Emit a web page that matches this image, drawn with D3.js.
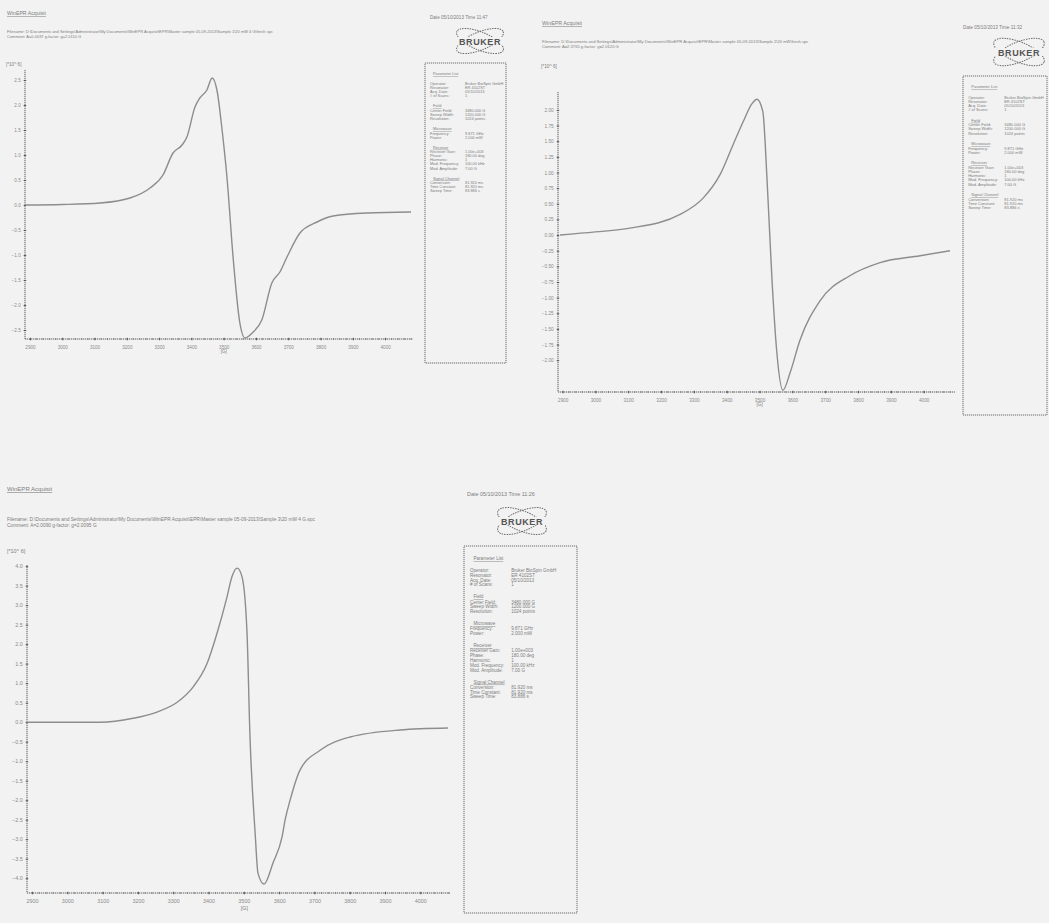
<!DOCTYPE html>
<html>
<head>
<meta charset="utf-8">
<script src="https://cdn.jsdelivr.net/npm/d3@7"></script>
<style>
  body { margin: 0; background: #f2f2f2; }
  text { font-family: "Liberation Sans", Arial, sans-serif; fill: #7d7d7d; }
</style>
</head>
<body>
<svg id="chart" width="1049" height="923"></svg>
<script>
'use strict';

// Field axis ticks shared by all three spectra [G].
const fieldTicks = [2900, 3000, 3100, 3200, 3300, 3400, 3500, 3600, 3700, 3800, 3900, 4000];
const fieldDomain = [2880, 4080];

// Spectrum 1 (top left).
const field1  = [2885, 3000, 3117, 3210, 3272, 3312, 3343, 3371, 3386, 3411, 3426, 3448, 3464, 3479, 3495, 3510, 3529, 3550, 3566, 3590, 3618, 3649, 3674, 3696, 3736, 3789, 3839, 3944, 4080];
const signal1 = [0.00, 0.01, 0.04, 0.14, 0.34, 0.60, 1.04, 1.20, 1.36, 1.96, 2.14, 2.30, 2.54, 2.30, 1.50, 0.56, -1.04, -2.36, -2.66, -2.55, -2.30, -1.56, -1.34, -1.04, -0.56, -0.34, -0.22, -0.16, -0.14];
const yTicks1 = [-2.5, -2.0, -1.5, -1.0, -0.5, 0.0, 0.5, 1.0, 1.5, 2.0, 2.5];

// Spectrum 2 (top right).
const field2  = [2892, 3000, 3105, 3258, 3328, 3380, 3419, 3450, 3477, 3492, 3510, 3523, 3538, 3553, 3571, 3593, 3623, 3684, 3775, 3867, 3989, 4080];
const signal2 = [0.00, 0.05, 0.11, 0.33, 0.59, 0.97, 1.44, 1.81, 2.10, 2.17, 1.97, 0.86, -0.73, -1.90, -2.48, -2.20, -1.68, -1.05, -0.65, -0.44, -0.33, -0.25];
const yTicks2 = [-2.00, -1.75, -1.50, -1.25, -1.00, -0.75, -0.50, -0.25, 0.00, 0.25, 0.50, 0.75, 1.00, 1.25, 1.50, 1.75, 2.00];

// Spectrum 3 (bottom left).
const field3  = [2886, 3092, 3186, 3254, 3311, 3356, 3396, 3424, 3452, 3466, 3481, 3495, 3509, 3517, 3532, 3540, 3557, 3583, 3608, 3617, 3631, 3659, 3716, 3801, 3942, 4078];
const signal3 = [0.00, 0.00, 0.10, 0.26, 0.51, 0.90, 1.51, 2.28, 3.20, 3.72, 3.95, 3.72, 2.28, -0.28, -2.85, -3.87, -4.15, -3.60, -2.95, -2.50, -2.00, -1.23, -0.72, -0.38, -0.20, -0.15];
const yTicks3 = [-4.0, -3.5, -3.0, -2.5, -2.0, -1.5, -1.0, -0.5, 0.0, 0.5, 1.0, 1.5, 2.0, 2.5, 3.0, 3.5, 4.0];

// Header texts.
const titles   = ['WinEPR Acquisit', 'WinEPR Acquisit', 'WinEPR Acquisit'];
const dates    = ['Date 05/10/2013  Time 11:47', 'Date 05/10/2013  Time 11:32', 'Date 05/10/2013  Time 11:26'];
const files    = [
  'Filename: D:\\Documents and Settings\\Administrator\\My Documents\\WinEPR Acquisit\\EPR\\Master sample 05-09-2013\\Sample 1\\20 mW 4 G\\fresh spc',
  'Filename: D:\\Documents and Settings\\Administrator\\My Documents\\WinEPR Acquisit\\EPR\\Master sample 05-09-2013\\Sample 2\\20 mW\\fresh.spc',
  'Filename: D:\\Documents and Settings\\Administrator\\My Documents\\WinEPR Acquisit\\EPR\\Master sample 05-09-2013\\Sample 3\\20 mW 4 G.spc'
];
const comments = ['Comment:  A=0.0037 g-factor: g=2.0110 G', 'Comment:  A=2.3765 g-factor: g=2.0120 G', 'Comment:  A=2.0090 g-factor: g=2.0095 G'];

// Parameter list (same acquisition settings).
const paramSections = [
  { head: null, rows: [['Operator:', 'Bruker BioSpin GmbH'], ['Resonator:', 'ER 4102ST'], ['Acq. Date:', '05/10/2013'], ['# of Scans:', '1']] },
  { head: 'Field', rows: [['Center Field:', '3480.000 G'], ['Sweep Width:', '1200.000 G'], ['Resolution:', '1024 points']] },
  { head: 'Microwave', rows: [['Frequency:', '9.871 GHz'], ['Power:', '2.000 mW']] },
  { head: 'Receiver', rows: [['Receiver Gain:', '1.00e+003'], ['Phase:', '180.00 deg'], ['Harmonic:', '1'], ['Mod. Frequency:', '100.00 kHz'], ['Mod. Amplitude:', '7.00 G']] },
  { head: 'Signal Channel', rows: [['Conversion:', '81.920 ms'], ['Time Constant:', '81.920 ms'], ['Sweep Time:', '83.886 s']] }
];

// Layout of each printed page on the scan.
const panels = [
  { field: field1, signal: signal1, yTicks: yTicks1, fmt: '.1f', yDomain: [-2.68, 2.70],
    left: 23.5, right: 411, top: 70, bottom: 339, axisEnd: 413,
    head: { x: 7, title: 15, file: 33, comment: 38, dateX: 430, dateY: 19 },
    logo: { cx: 480, cy: 41, rx: 25, ry: 9 }, ylab: { x: 6, y: 66 },
    box: { x: 425, y: 63, w: 81, h: 300 }, s: 1 },
  { field: field2, signal: signal2, yTicks: yTicks2, fmt: '.2f', yDomain: [-2.508, 2.286],
    left: 556, right: 950, top: 92, bottom: 392, axisEnd: 955, yAxisX: 558,
    head: { x: 542, title: 25, file: 43, comment: 48, dateX: 963, dateY: 29 },
    logo: { cx: 1019, cy: 52, rx: 27, ry: 10 }, ylab: { x: 541, y: 68 },
    box: { x: 963, y: 76, w: 84, h: 339 }, s: 1.03 },
  { field: field3, signal: signal3, yTicks: yTicks3, fmt: '.1f', yDomain: [-4.38, 4.03],
    left: 25, right: 448.6, top: 565, bottom: 893, axisEnd: 450, yAxisX: 27,
    head: { x: 7, title: 491, file: 521, comment: 527, dateX: 467, dateY: 496 },
    logo: { cx: 522, cy: 521, rx: 26, ry: 10 }, ylab: { x: 7, y: 553 },
    box: { x: 464, y: 546, w: 113, h: 367 }, s: 1.18 }
];

const svg = d3.select('#chart');
svg.append('rect').attr('width', 1049).attr('height', 923).attr('fill', '#f2f2f2');

function drawLogo(g, l) {
  const logo = g.append('g').attr('transform', `translate(${l.cx},${l.cy})`);
  [-22, 22].forEach(a => {
    logo.append('ellipse')
      .attr('rx', l.rx).attr('ry', l.ry)
      .attr('transform', `rotate(${a})`)
      .attr('fill', 'none').attr('stroke', '#6a6a6a')
      .attr('stroke-width', 1).attr('stroke-dasharray', '1.5,1');
  });
  logo.append('rect').attr('x', -l.rx + 2).attr('y', -4).attr('width', 2 * l.rx - 4).attr('height', 8).attr('fill', '#f2f2f2');
  logo.append('text')
    .attr('text-anchor', 'middle').attr('y', 3.5)
    .style('font-size', '9px').style('font-weight', 'bold').style('letter-spacing', '0.6px')
    .style('fill', '#555')
    .text('BRUKER');
}

function drawParams(g, b, s) {
  g.append('rect')
    .attr('x', b.x).attr('y', b.y).attr('width', b.w).attr('height', b.h)
    .attr('fill', 'none').attr('stroke', '#5e5e5e').attr('stroke-width', 0.9)
    .attr('stroke-dasharray', '1.2,0.8');
  const fs = 3.9 * s;
  const xl = b.x + 5 * s, xv = b.x + 40 * s;
  let y = b.y + 12 * s;
  const title = g.append('text').attr('x', b.x + 8 * s).attr('y', y).style('font-size', fs + 'px')
    .attr('text-decoration', 'underline').text('Parameter List');
  y += 10 * s;
  paramSections.forEach((sec, i) => {
    if (sec.head) {
      g.append('text').attr('x', xl + 3 * s).attr('y', y).style('font-size', fs + 'px')
        .attr('text-decoration', 'underline').text(sec.head);
      y += 4.4 * s;
    }
    sec.rows.forEach(r => {
      g.append('text').attr('x', xl).attr('y', y).style('font-size', fs + 'px').text(r[0]);
      g.append('text').attr('x', xv).attr('y', y).style('font-size', fs + 'px').text(r[1]);
      y += 4.1 * s;
    });
    y += 6 * s;
  });
}

function drawPanel(p, idx) {
  const g = svg.append('g');
  const fs = 4.6 * p.s;

  // Header block.
  g.append('text').attr('x', p.head.x).attr('y', p.head.title).style('font-size', (fs + 0.6) + 'px')
    .attr('text-decoration', 'underline').text(titles[idx]);
  g.append('text').attr('x', p.head.dateX).attr('y', p.head.dateY).style('font-size', fs + 'px').text(dates[idx]);
  g.append('text').attr('x', p.head.x).attr('y', p.head.file).style('font-size', (fs - 0.6) + 'px').text(files[idx]);
  g.append('text').attr('x', p.head.x).attr('y', p.head.comment).style('font-size', (fs - 0.6) + 'px').text(comments[idx]);
  g.append('text').attr('x', p.ylab.x).attr('y', p.ylab.y).style('font-size', fs + 'px').text('[*10^ 6]');

  drawLogo(g, p.logo);
  drawParams(g, p.box, p.s);

  const x = d3.scaleLinear().domain(fieldDomain).range([p.left, p.right]);
  const y = d3.scaleLinear().domain(p.yDomain).range([p.bottom, p.top]);
  const yAxisX = p.yAxisX || p.left + 1.5;

  // Axis lines (dotted like the printout).
  g.append('line').attr('x1', yAxisX).attr('x2', yAxisX).attr('y1', p.top).attr('y2', p.bottom)
    .attr('stroke', '#4f4f4f').attr('stroke-width', 0.9).attr('stroke-dasharray', '1.3,0.7');
  g.append('line').attr('x1', yAxisX).attr('x2', p.axisEnd).attr('y1', p.bottom).attr('y2', p.bottom)
    .attr('stroke', '#4f4f4f').attr('stroke-width', 0.9).attr('stroke-dasharray', '1.3,0.7');

  // X axis: major + minor ticks.
  const xAxis = d3.axisBottom(x).tickValues(fieldTicks).tickSize(2.5).tickFormat(d3.format('d'));
  const gx = g.append('g').attr('transform', `translate(0,${p.bottom})`).call(xAxis);
  gx.select('.domain').remove();
  gx.selectAll('line').attr('stroke', '#555').attr('transform', 'translate(0,-1.2)');
  gx.selectAll('text').style('font-size', fs + 'px').attr('dy', '0.9em').style('fill', '#8a8a8a');
  const minorX = d3.range(2900, 4081, 20);
  g.append('g').selectAll('line').data(minorX).join('line')
    .attr('x1', d => x(d)).attr('x2', d => x(d))
    .attr('y1', p.bottom - 0.8).attr('y2', p.bottom + 0.8)
    .attr('stroke', '#555').attr('stroke-width', 0.6);
  g.append('text').attr('x', x(3500) - 3).attr('y', p.bottom + 14 * p.s)
    .style('font-size', fs + 'px').text('[G]');

  // Y axis.
  const yAxis = d3.axisLeft(y).tickValues(p.yTicks).tickSize(2.5).tickFormat(d3.format(p.fmt));
  const gy = g.append('g').attr('transform', `translate(${yAxisX + 1.2},0)`).call(yAxis);
  gy.select('.domain').remove();
  gy.selectAll('line').attr('stroke', '#555');
  gy.selectAll('text').style('font-size', fs + 'px').style('fill', '#8a8a8a');

  // Spectrum.
  const line = d3.line()
    .x((d, i) => x(p.field[i]))
    .y(d => y(d))
    .curve(d3.curveMonotoneX);
  g.append('path')
    .datum(p.signal)
    .attr('d', line)
    .attr('fill', 'none')
    .attr('stroke', '#8d8d8d')
    .attr('stroke-width', 1.4);
}

panels.forEach(drawPanel);
</script>
</body>
</html>
